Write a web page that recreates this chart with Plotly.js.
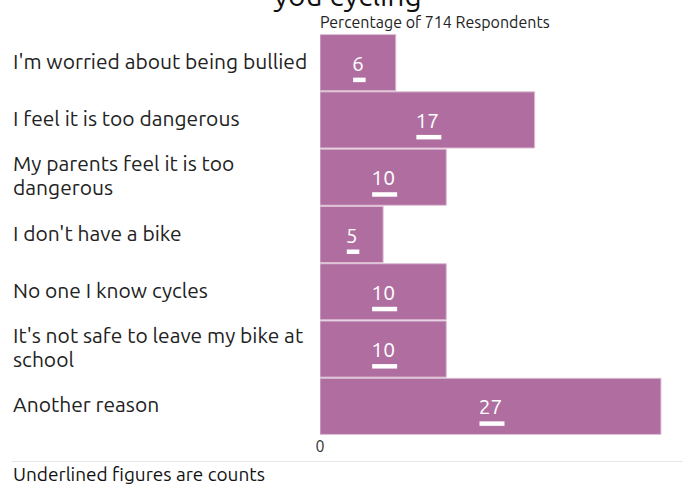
<!DOCTYPE html>
<html>
<head>
<meta charset="utf-8">
<script src="https://cdn.plot.ly/plotly-3.0.1.min.js"></script>
<style>html,body{margin:0;padding:0;background:#fff;}</style>
</head>
<body>
<div id="chart" style="width:683px;height:486px;"></div>
<script>
const categories = [
  "I'm worried about being bullied",
  "I feel it is too dangerous",
  "My parents feel it is too<br>dangerous",
  "I don't have a bike",
  "No one I know cycles",
  "It's not safe to leave my bike at<br>school",
  "Another reason"
];
const counts = [6, 17, 10, 5, 10, 10, 27];
const titleText = "you cycling";
const subtitleText = "Percentage of 714 Respondents";
const captionText = "Underlined figures are counts";
const tickVals = [0];
const tickText = ["0"];

const FONT = "Ubuntu, 'Open Sans', sans-serif";
const BAR = "#b06ea0";
const idx = categories.map((_, i) => i);
const maxV = Math.max(...counts);

const bars = {
  type: "bar",
  orientation: "h",
  x: counts,
  y: idx,
  width: 0.98,
  marker: {color: BAR, line: {color: "#dcbdd3", width: 1}},
  text: counts.map(String),
  textposition: "inside",
  insidetextanchor: "middle",
  textangle: 0,
  textfont: {family: FONT, size: 21, color: "#ffffff"},
  hoverinfo: "none",
  showlegend: false
};

// underline marks under each count, derived from the data
const underlineShapes = counts.map((v, i) => {
  const w = String(v).length * 12.5;
  return {
    type: "rect",
    xref: "x", xsizemode: "pixel", xanchor: v / 2, x0: -w / 2 + 1.5, x1: w / 2 + 1.5,
    yref: "y", ysizemode: "pixel", yanchor: i, y0: -15, y1: -19.5,
    fillcolor: "#ffffff", line: {width: 0}
  };
});

const labelAnn = [];
categories.forEach((c, i) => {
  const lines = c.split("<br>");
  lines.forEach((ln, k) => {
    labelAnn.push({
      text: ln,
      xref: "paper", x: 0, xshift: -309, xanchor: "left",
      yref: "y", y: i, yanchor: "middle",
      yshift: 2 - (k - (lines.length - 1) / 2) * 24,
      align: "left",
      showarrow: false,
      font: {family: FONT, size: 21, color: "#222222"}
    });
  });
});

const layout = {
  width: 683, height: 486,
  margin: {l: 320, r: 5, t: 33.5, b: 50.5, pad: 0},
  paper_bgcolor: "#ffffff",
  plot_bgcolor: "#ffffff",
  font: {family: FONT, color: "#222222"},
  title: {
    text: titleText,
    font: {family: FONT, size: 30, color: "#111111"},
    xref: "container", x: 0.509, xanchor: "center",
    yref: "container", y: 1 - 6 / 486, yanchor: "bottom"
  },
  xaxis: {
    range: [0, maxV * 1.05],
    tickvals: tickVals, ticktext: tickText,
    showgrid: false, zeroline: false, showline: false,
    ticks: "",
    tickfont: {family: FONT, size: 16, color: "#333333"},
    fixedrange: true
  },
  yaxis: {
    range: [categories.length - 0.5, -0.5],
    showticklabels: false, showgrid: false, zeroline: false, showline: false,
    ticks: "", fixedrange: true
  },
  bargap: 0.02,
  annotations: labelAnn.concat([
    {
      text: subtitleText,
      xref: "paper", x: 0, xshift: -2, xanchor: "left",
      yref: "paper", y: 1, yanchor: "bottom", yshift: 1,
      showarrow: false,
      font: {family: FONT, size: 16, color: "#222222"}
    },
    {
      text: captionText,
      xref: "paper", x: 0, xshift: -309, xanchor: "left",
      yref: "paper", y: 0, yanchor: "middle", yshift: -38.5,
      showarrow: false,
      font: {family: FONT, size: 19, color: "#111111"}
    }
  ]),
  shapes: underlineShapes.concat([{
    type: "line",
    xref: "paper", xsizemode: "pixel", xanchor: 0, x0: -308, x1: 370,
    yref: "paper", ysizemode: "pixel", yanchor: 0, y0: -26.5, y1: -26.5,
    line: {color: "#e6e6e6", width: 1}
  }]),
  hovermode: false
};

Plotly.newPlot("chart", [bars], layout, {displayModeBar: false, staticPlot: true});
</script>
</body>
</html>
